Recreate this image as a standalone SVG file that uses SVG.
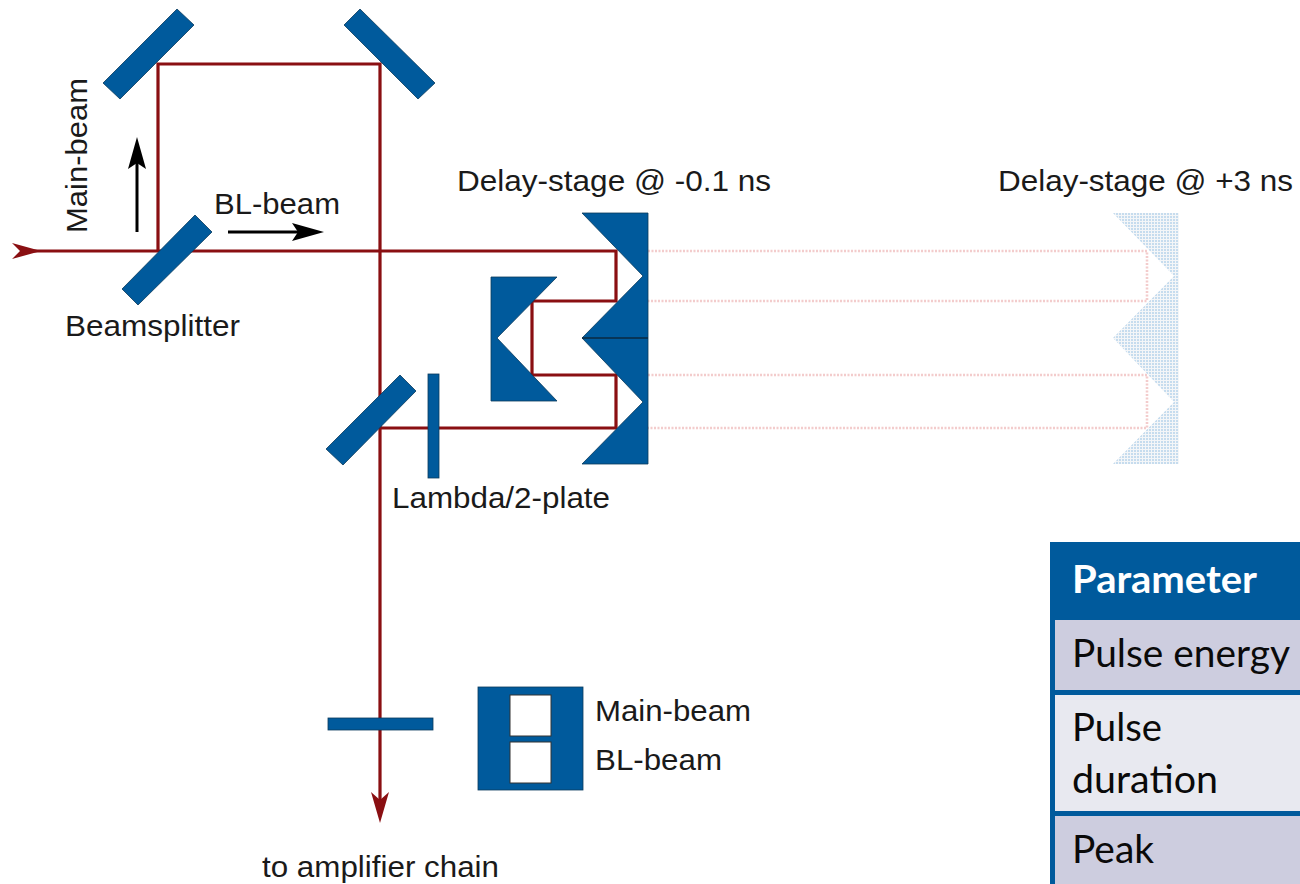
<svg xmlns="http://www.w3.org/2000/svg" width="1300" height="884" viewBox="0 0 1300 884">
<style>
.opt{fill:#005a9c;stroke:#0a3a5c;stroke-width:.8}
.beam{fill:none;stroke:#8a0f12;stroke-width:3.2}
.ghost{fill:none;stroke:#f3cccc;stroke-width:2.6;stroke-dasharray:2 1.5}
.lbl{font-family:"Liberation Sans",Arial,sans-serif;font-size:30px;fill:#1a1a1a}
.tb{font-family:Lato,"Open Sans",sans-serif;font-size:38px;fill:#0a0a0a}
</style>
<defs>
<pattern id="dots" width="3" height="3" patternUnits="userSpaceOnUse"><rect width="3" height="3" fill="#f4f6f8"/><rect width="2" height="2" fill="#c6dcee"/></pattern>
</defs>
<rect width="1300" height="884" fill="#fff"/>
<g id="connectors">
<path class="ghost" d="M648 251H1147V301H648M648 375H1147V428H648"/>
<path class="beam" d="M30 251H616V301H532V375H616V428H380"/>
<path class="beam" d="M158 251V64H380V800"/>
<path d="M12 243L41 251L12 259L20 251Z" fill="#8a0f12"/>
<path d="M371 792L380 823L389 792L380 800Z" fill="#8a0f12"/>
<path d="M137 232V160" fill="none" stroke="#000" stroke-width="3"/>
<path d="M137 137L146 169L137 163L128 169Z" fill="#000"/>
<path d="M228 232H300" fill="none" stroke="#000" stroke-width="3"/>
<path d="M324 232L292 223L298 232L292 241Z" fill="#000"/>
</g>
<g id="mirror-top-left"><polygon class="opt" points="177,9 194,25 120,99 103,83"/></g>
<g id="mirror-top-right"><polygon class="opt" points="360,9 344,25 418,99 435,83"/></g>
<g id="beamsplitter"><polygon class="opt" points="195,215 212,232 138,305 122,289"/><text class="lbl" x="65" y="336" textLength="175" lengthAdjust="spacingAndGlyphs">Beamsplitter</text></g>
<g id="splitter-lower"><polygon class="opt" points="400,375 416,391 343,465 326,449"/></g>
<g id="lambda-plate"><rect class="opt" x="428" y="374" width="11" height="104"/><text class="lbl" x="392" y="508" textLength="218" lengthAdjust="spacingAndGlyphs">Lambda/2-plate</text></g>
<g id="retro"><polygon class="opt" points="491,277 557,277 497,338 557,401 491,401"/></g>
<g id="delay-stage"><polygon class="opt" points="582,213 648,213 648,464 582,464 643,402 582,338 643,276"/><path d="M582 338H648" stroke="#0a2a40" stroke-width="1.5"/><text class="lbl" x="457" y="191" textLength="314" lengthAdjust="spacingAndGlyphs">Delay-stage @ -0.1 ns</text></g>
<g id="delay-stage-ghost"><polygon fill="url(#dots)" points="1113,213 1179,213 1179,464 1113,464 1174,402 1113,338 1174,276"/><text class="lbl" x="998" y="191" textLength="295" lengthAdjust="spacingAndGlyphs">Delay-stage @ +3 ns</text></g>
<g id="bottom-plate"><rect class="opt" x="328" y="718" width="105" height="12"/></g>
<g id="legend"><rect class="opt" x="478" y="687" width="105" height="103"/><rect x="510" y="695" width="41" height="41" fill="#fff" stroke="#333"/><rect x="510" y="742" width="41" height="41" fill="#fff" stroke="#333"/><text class="lbl" x="595" y="721" textLength="156" lengthAdjust="spacingAndGlyphs">Main-beam</text><text class="lbl" x="595" y="770" textLength="127" lengthAdjust="spacingAndGlyphs">BL-beam</text></g>
<g id="labels">
<text class="lbl" transform="translate(87 233) rotate(-90)" textLength="155" lengthAdjust="spacingAndGlyphs">Main-beam</text>
<text class="lbl" x="214" y="214" textLength="126" lengthAdjust="spacingAndGlyphs">BL-beam</text>
<text class="lbl" x="262" y="877" textLength="237" lengthAdjust="spacingAndGlyphs">to amplifier chain</text>
</g>
<g id="table">
<rect x="1050" y="542" width="250" height="342" fill="#005a9c"/>
<rect x="1055" y="620" width="245" height="70" fill="#cdcddf"/>
<rect x="1055" y="695" width="245" height="116" fill="#e8e9f0"/>
<rect x="1055" y="816" width="245" height="68" fill="#cdcddf"/>
<text class="tb" x="1072" y="593" style="font-weight:700;fill:#fff" textLength="185" lengthAdjust="spacingAndGlyphs">Parameter</text>
<text class="tb" x="1072" y="667" textLength="218" lengthAdjust="spacingAndGlyphs">Pulse energy</text>
<text class="tb" x="1072" y="741" textLength="90" lengthAdjust="spacingAndGlyphs">Pulse</text>
<text class="tb" x="1072" y="793" textLength="146" lengthAdjust="spacingAndGlyphs">duration</text>
<text class="tb" x="1072" y="863" textLength="82" lengthAdjust="spacingAndGlyphs">Peak</text>
</g>
</svg>
